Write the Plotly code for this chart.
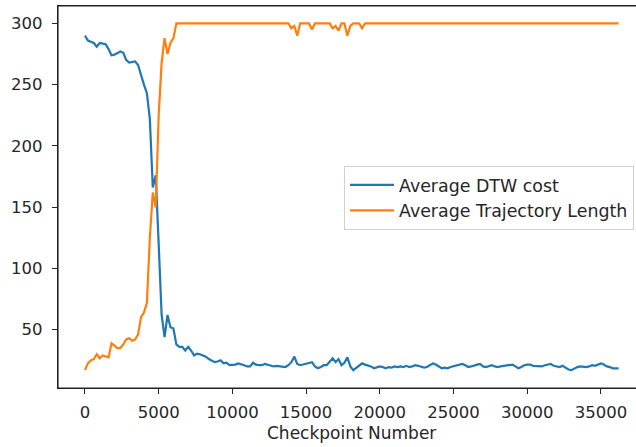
import plotly.graph_objects as go

# Checkpoint numbers (every 200 steps)
checkpoints = list(range(0, 36201, 200))

# Average DTW cost
dtw_cost = [
    290, 286, 285, 284, 281, 284, 283.5, 283, 279, 274,          # 0-1800
    274.5, 276, 277, 276, 270, 268, 268.5, 269, 266, 257,        # 2000-3800
    250, 243, 222, 166, 176, 120, 62, 44, 62, 52,                # 4000-5800
    51, 38, 36, 36, 33, 36, 33, 29, 30.5, 30,                    # 6000-7800
    29, 28, 26, 24.5, 23.5, 24, 25, 22.5, 23, 21,                # 8000-9800
    21, 21.5, 22.5, 22, 21, 20, 20, 23, 21.5, 21,                # 10000-11800
    21, 22, 21.5, 21, 20, 20.5, 20, 19.5, 19.5, 21,              # 12000-13800
    23.5, 28, 22, 21, 21.5, 22, 22.5, 23.5, 20, 18.5,            # 14000-15800
    19.5, 21, 21, 24, 26.7, 23.5, 26, 21, 23, 27.5,              # 16000-17800
    20, 17, 19, 21, 22.5, 21.5, 21, 20, 18.5, 19.5,              # 18000-19800
    20, 19.5, 18.5, 19.5, 19, 20, 19.5, 20, 19.5, 20.5,          # 20000-21800
    19.5, 20, 21, 20.5, 19.5, 19, 19.5, 21, 22.5, 21.5,          # 22000-23800
    20, 18.5, 19, 18.5, 19.5, 20, 20.5, 21, 22, 21,              # 24000-25800
    19.5, 20, 21, 21.5, 22, 20, 19.5, 20.5, 21, 20,              # 26000-27800
    19.5, 20, 20.5, 21, 21, 21.5, 20, 18.5, 19.5, 21,            # 28000-29800
    21.5, 21.5, 20.5, 20.5, 20.5, 20, 21, 21.5, 22, 20.5,        # 30000-31800
    20, 19.5, 20.5, 19, 17.5, 17, 18.5, 19.5, 20, 19.5,          # 32000-33800
    19.5, 20, 21, 20.5, 21.5, 22.5, 21.5, 20, 19.5, 18.5,        # 34000-35800
    18.5, 18.5,                                                  # 36000-36200
]

# Average trajectory length
traj_length = [
    17, 22.5, 25, 26, 30, 26.7, 29, 28, 27.5, 39,                # 0-1800
    37, 35, 35, 38, 42, 43, 41, 42, 46, 60,                      # 2000-3800
    64, 72, 125, 162, 150, 225, 268, 288, 275, 284,              # 4000-5800
    288, 300, 300, 300, 300, 300, 300, 300, 300, 300,            # 6000-7800
    300, 300, 300, 300, 300, 300, 300, 300, 300, 300,            # 8000-9800
    300, 300, 300, 300, 300, 300, 300, 300, 300, 300,            # 10000-11800
    300, 300, 300, 300, 300, 300, 300, 300, 300, 300,            # 12000-13800
    296, 298, 290, 300, 300, 300, 300, 295, 300, 300,            # 14000-15800
    300, 300, 300, 300, 296, 298, 294, 300, 300, 290,            # 16000-17800
    298, 300, 300, 300, 296, 300, 300, 300, 300, 300,            # 18000-19800
    300, 300, 300, 300, 300, 300, 300, 300, 300, 300,            # 20000-21800
    300, 300, 300, 300, 300, 300, 300, 300, 300, 300,            # 22000-23800
    300, 300, 300, 300, 300, 300, 300, 300, 300, 300,            # 24000-25800
    300, 300, 300, 300, 300, 300, 300, 300, 300, 300,            # 26000-27800
    300, 300, 300, 300, 300, 300, 300, 300, 300, 300,            # 28000-29800
    300, 300, 300, 300, 300, 300, 300, 300, 300, 300,            # 30000-31800
    300, 300, 300, 300, 300, 300, 300, 300, 300, 300,            # 32000-33800
    300, 300, 300, 300, 300, 300, 300, 300, 300, 300,            # 34000-35800
    300, 300,                                                    # 36000-36200
]

x_ticks = [0, 5000, 10000, 15000, 20000, 25000, 30000, 35000]
x_tick_labels = ["0", "5000", "10000", "15000", "20000", "25000", "30000", "35000"]
y_ticks = [50, 100, 150, 200, 250, 300]
y_tick_labels = ["50", "100", "150", "200", "250", "300"]

assert len(checkpoints) == len(dtw_cost) == len(traj_length)

FONT = "DejaVu Sans"
TXT = "#262626"
SPINE = "#222222"
fig = go.Figure()
fig.add_trace(go.Scatter(x=checkpoints, y=dtw_cost, mode="lines",
                         name="Average DTW cost", legendgroup="a",
                         line=dict(color="#1f77b4", width=2.2)))
fig.add_trace(go.Scatter(x=checkpoints, y=traj_length, mode="lines",
                         name="Average Trajectory Length", legendgroup="b",
                         line=dict(color="#ff7f0e", width=2.2)))

# axes frame (left, bottom, top spines) drawn in paper coordinates
spine_style = dict(type="line", xref="paper", yref="paper",
                   line=dict(color=SPINE, width=1.2), layer="above")
frame = [
    dict(x0=0, x1=0, y0=0, y1=1, **spine_style),
    dict(x0=0, x1=1, y0=0, y1=0, **spine_style),
    dict(x0=0, x1=1, y0=1, y1=1, **spine_style),
]

fig.update_layout(
    width=636, height=447,
    margin=dict(l=58, r=0, t=6, b=59, autoexpand=False),
    paper_bgcolor="white", plot_bgcolor="white",
    font=dict(family=FONT, size=16, color=TXT),
    showlegend=True,
    legend=dict(x=(344 - 58) / 578, y=(388 - 166) / 382,
                xanchor="left", yanchor="top",
                bgcolor="rgba(255,255,255,0.8)", bordercolor="#d0d0d0",
                borderwidth=1, font=dict(size=17.4, color=TXT),
                itemwidth=44, tracegroupgap=0),
    xaxis=dict(range=[-1830, 37380], tickvals=x_ticks, ticktext=x_tick_labels,
               automargin=False,
               showgrid=False, zeroline=False, showline=True,
               linecolor=SPINE, linewidth=1.2, mirror=True,
               ticks="outside", ticklen=5, tickcolor=SPINE, tickwidth=1.2,
               ticklabelstandoff=4,
               tickfont=dict(size=16.5, color=TXT)),
    yaxis=dict(range=[2.4, 314.2], tickvals=y_ticks, ticktext=y_tick_labels,
               automargin=False,
               showgrid=False, zeroline=False, showline=True,
               linecolor=SPINE, linewidth=1.2,
               ticks="outside", ticklen=5, tickcolor=SPINE, tickwidth=1.2,
               ticklabelstandoff=6,
               tickfont=dict(size=16.5, color=TXT)),
    shapes=frame,
    annotations=[dict(text="Checkpoint Number", xref="paper", yref="paper",
                      x=(351.5 - 58) / 578, y=0, yshift=-33,
                      xanchor="center", yanchor="top",
                      showarrow=False, font=dict(size=17, color=TXT))],
)

fig.write_html("out.html",
               config={"displayModeBar": False},
               post_script="document.body.style.margin='0';"
                           "document.body.style.overflow='hidden';")
